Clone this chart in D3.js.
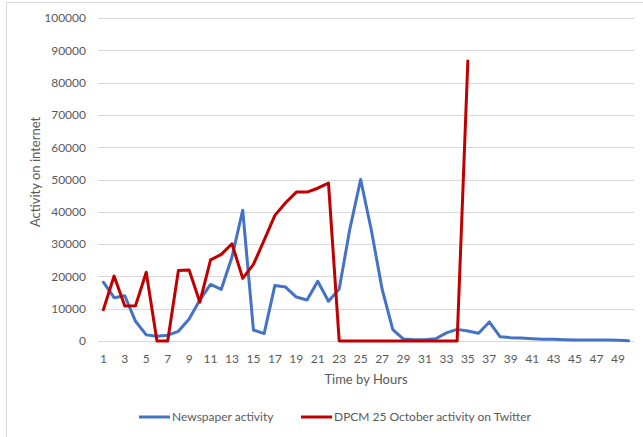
<!DOCTYPE html>
<html><head><meta charset="utf-8">
<script src="https://cdn.jsdelivr.net/npm/d3@7"></script>
<style>
html,body{margin:0;padding:0;background:#fff;}
svg{display:block;font-family:Lato, "Open Sans", sans-serif;}
</style></head>
<body><svg id="c" width="643" height="437"></svg>
<script>
const hours = [1,2,3,4,5,6,7,8,9,10,11,12,13,14,15,16,17,18,19,20,21,22,23,24,25,26,27,28,29,30,31,32,33,34,35,36,37,38,39,40,41,42,43,44,45,46,47,48,49,50];
const newspaper = [18200,13400,14000,6100,1900,1450,1800,3000,6800,12700,17500,16000,26000,40500,3400,2300,17200,16700,13600,12700,18500,12300,16100,34800,50000,34300,16100,3500,600,400,400,700,2500,3600,3100,2400,5900,1350,1030,930,720,520,520,400,300,300,300,300,200,100];
const twitter = [9700,20100,10800,10900,21300,0,0,21800,22000,12000,25100,26800,30100,19400,23700,31200,38900,42800,46100,46100,47300,48900,0,0,0,0,0,0,0,0,0,0,0,0,86700];
const yTicks = [0,10000,20000,30000,40000,50000,60000,70000,80000,90000,100000];
const xTickLabels = [1,3,5,7,9,11,13,15,17,19,21,23,25,27,29,31,33,35,37,39,41,43,45,47,49];
const seriesNames = ["Newspaper activity","DPCM 25 October activity on Twitter"];
const colors = ["#4472C4","#C00000"];

const svg = d3.select("#c");
// chart frame
svg.append("rect").attr("x",6.5).attr("y",2.5).attr("width",700).attr("height",500)
  .attr("fill","none").attr("stroke","#d9d9d9");

const x = d3.scaleBand().domain(hours).range([98,634]);
const y = d3.scaleLinear().domain([0,100000]).range([341,18]);
const cx = h => x(h) + x.bandwidth()/2;

// gridlines
svg.append("g").selectAll("line").data(yTicks).join("line")
  .attr("x1",98).attr("x2",634)
  .attr("y1",d=>Math.round(y(d))+0.5).attr("y2",d=>Math.round(y(d))+0.5)
  .attr("stroke","#d9d9d9").attr("stroke-width",1);

// y axis labels
const yAxis = d3.axisLeft(y).tickValues(yTicks).tickSize(0).tickPadding(12).tickFormat(d3.format("d"));
const gy = svg.append("g").attr("transform","translate(98,0)").call(yAxis);
gy.select(".domain").remove();
gy.selectAll("text").attr("fill","#595959").style("font-size","12px").style("font-family","Lato, sans-serif");

// x axis labels
const xAxis = d3.axisBottom(x).tickValues(xTickLabels).tickSize(0).tickPadding(13);
const gx = svg.append("g").attr("transform","translate(0,341)").call(xAxis);
gx.select(".domain").remove();
gx.selectAll("text").attr("fill","#595959").style("font-size","12px").style("font-family","Lato, sans-serif");

// axis titles
svg.append("text").attr("x",366).attr("y",384).attr("text-anchor","middle")
  .attr("fill","#595959").style("font-size","13px").text("Time by Hours");
svg.append("text").attr("transform","translate(40,172) rotate(-90)").attr("text-anchor","middle")
  .attr("fill","#595959").style("font-size","13px").text("Activity on internet");

// lines
const line = d3.line().x((d,i)=>cx(hours[i])).y(d=>y(d)).curve(d3.curveLinear);
svg.append("path").datum(newspaper).attr("d",line).attr("fill","none")
  .attr("stroke",colors[0]).attr("stroke-width",3).attr("stroke-linejoin","round").attr("stroke-linecap","round");
svg.append("path").datum(twitter).attr("d",line).attr("fill","none")
  .attr("stroke",colors[1]).attr("stroke-width",3).attr("stroke-linejoin","round").attr("stroke-linecap","round");

// legend
const legX = [139,301];
const lg = svg.append("g");
seriesNames.forEach((n,i)=>{
  lg.append("line").attr("x1",legX[i]).attr("x2",legX[i]+31).attr("y1",417).attr("y2",417)
    .attr("stroke",colors[i]).attr("stroke-width",3);
  lg.append("text").attr("x",legX[i]+33).attr("y",421).attr("fill","#595959")
    .style("font-size","12px").text(n);
});
</script></body></html>
